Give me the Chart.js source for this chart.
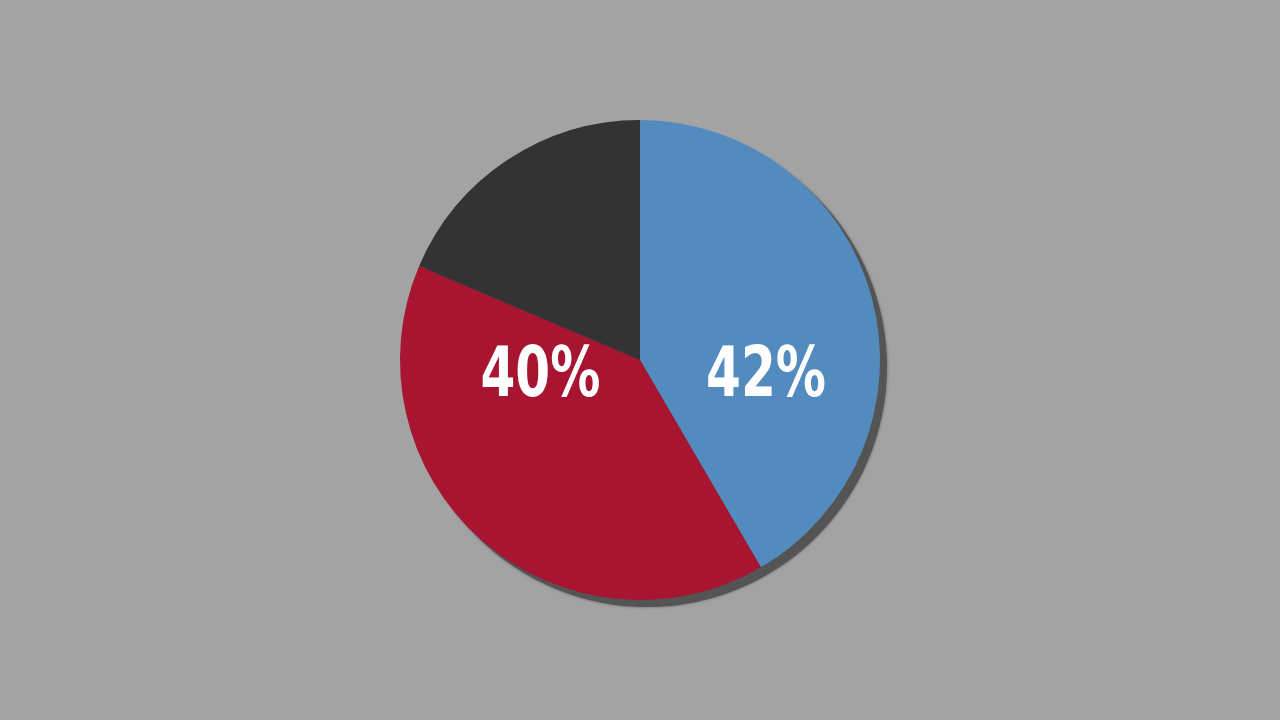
<!DOCTYPE html>
<html lang="en">
<head>
<meta charset="UTF-8">
<title>Pie</title>
<style>
  html, body { margin: 0; padding: 0; background: #a3a3a3; }
  #wrap { width: 1280px; height: 720px; }
</style>
</head>
<body>
<div id="wrap"><canvas id="pie" width="1280" height="720"></canvas></div>
<script src="https://cdn.jsdelivr.net/npm/chart.js@4.4.0/dist/chart.umd.min.js"></script>
<script>
// data
const categories = ['A', 'B', 'C'];
const values = [41.6, 39.8, 18.6];
const sliceColors = ['#548bbf', '#a71530', '#333333'];
// which slices get a printed label
const showLabel = [true, true, false];

// dark shadow behind the pie
const shadowPlugin = {
  id: 'pieShadow',
  beforeDatasetsDraw(chart) {
    const arc = chart.getDatasetMeta(0).data[0];
    if (!arc) return;
    const ctx = chart.ctx;
    ctx.save();
    ctx.fillStyle = '#545454';
    ctx.shadowColor = 'rgba(70,70,70,0.7)';
    ctx.shadowBlur = 3;
    ctx.beginPath();
    ctx.arc(arc.x + 7, arc.y + 7, arc.outerRadius, 0, Math.PI * 2);
    ctx.fill();
    ctx.restore();
  }
};

// big white percentage labels, squeezed to a condensed look
const labelPlugin = {
  id: 'pctLabels',
  afterDatasetsDraw(chart) {
    const meta = chart.getDatasetMeta(0);
    const ctx = chart.ctx;
    const total = values.reduce((a, b) => a + b, 0);
    ctx.save();
    ctx.fillStyle = '#ffffff';
    ctx.font = 'bold 70px "DejaVu Sans", sans-serif';
    ctx.textAlign = 'center';
    ctx.textBaseline = 'middle';
    meta.data.forEach((arc, i) => {
      if (!showLabel[i]) return;
      const text = Math.round(values[i] / total * 100) + '%';
      const mid = (arc.startAngle + arc.endAngle) / 2;
      const right = Math.cos(mid) >= 0;
      const x = arc.x + (right ? 0.525 : -0.415) * arc.outerRadius;
      const y = arc.y + 18;
      const w = ctx.measureText(text).width;
      const sx = Math.min(1, arc.outerRadius * 0.5 / w);
      ctx.save();
      ctx.translate(x, y);
      ctx.scale(sx, 1);
      ctx.fillText(text, 0, 0);
      ctx.restore();
    });
    ctx.restore();
  }
};

window.onload = function () {
  let context = document.querySelector('#pie').getContext('2d');
  new Chart(context, {
    type: 'pie',
    data: {
      labels: categories,
      datasets: [{
        data: values,
        backgroundColor: sliceColors,
        borderWidth: 0
      }]
    },
    options: {
      responsive: false,
      animation: false,
      layout: { padding: { top: 120, bottom: 120 } },
      plugins: {
        legend: { display: false },
        tooltip: { enabled: false }
      }
    },
    plugins: [shadowPlugin, labelPlugin]
  });
};
</script>
</body>
</html>
